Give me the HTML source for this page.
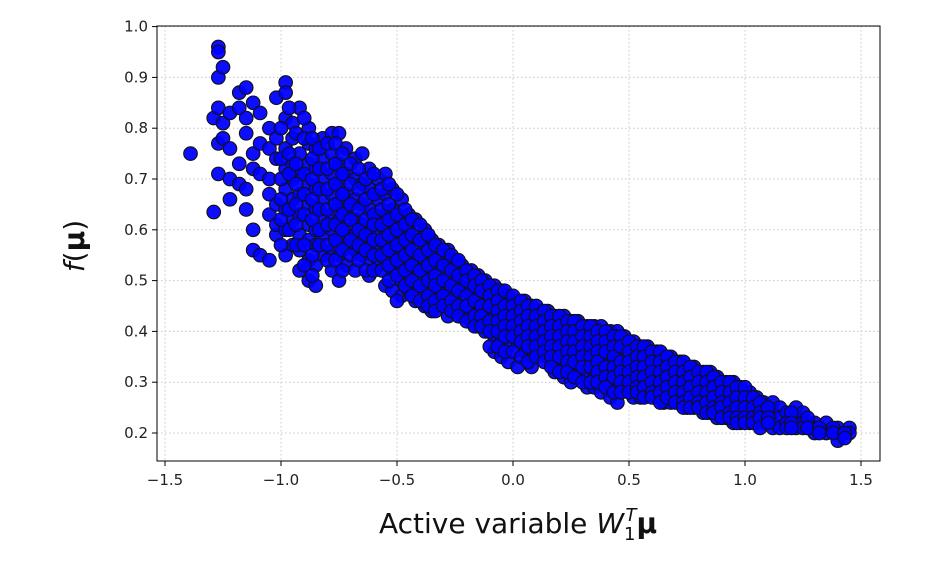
<!DOCTYPE html>
<html><head><meta charset="utf-8"><style>
html,body{margin:0;padding:0;background:#fff;}
svg{display:block;font-family:"DejaVu Sans","Liberation Sans",sans-serif;}
</style></head><body>
<svg id="chart" width="948" height="586" viewBox="0 0 948 586" xmlns="http://www.w3.org/2000/svg">
<g id="grid"></g>
<g id="points"></g>
<rect x="157" y="26" width="723" height="435" fill="none" stroke="#000" stroke-width="1"/>
<g id="xticks"></g>
<g id="yticks"></g>
<text transform="translate(84,246) rotate(-90)" text-anchor="middle" font-size="28" fill="#111"><tspan font-style="italic">f</tspan>(<tspan font-weight="bold">μ</tspan>)</text>
<text x="518" y="533" text-anchor="middle" font-size="28" fill="#111">Active variable <tspan font-style="italic">W</tspan><tspan font-size="18" dy="7">1</tspan><tspan font-style="italic" font-size="18" dy="-19" dx="-10">T</tspan><tspan font-weight="bold" dy="12">μ</tspan></text>
</svg>
<script>
const xTicks=[-1.5,-1.0,-0.5,0.0,0.5,1.0,1.5];
const xTickLabels=["−1.5","−1.0","−0.5","0.0","0.5","1.0","1.5"];
const yTicks=[0.2,0.3,0.4,0.5,0.6,0.7,0.8,0.9,1.0];
const yTickLabels=["0.2","0.3","0.4","0.5","0.6","0.7","0.8","0.9","1.0"];
const colX=[-1.39,-1.29,-1.27,-1.25,-1.22,-1.18,-1.15,-1.12,-1.09,-1.05,-1.02,-0.98,-0.95,-0.92,-0.88,-0.85,-0.82,-0.78,-0.75,-0.72,-0.68,-0.65,-0.62,-0.58,-0.55,-0.52,-0.48,-0.45,-0.42,-0.38,-0.35,-0.32,-0.28,-0.25,-0.22,-0.18,-0.15,-0.12,-0.08,-0.05,-0.02,0.02,0.05,0.08,0.12,0.15,0.18,0.22,0.25,0.28,0.32,0.35,0.38,0.42,0.45,0.48,0.52,0.55,0.58,0.62,0.65,0.68,0.72,0.75,0.78,0.82,0.85,0.88,0.92,0.95,0.98,1.02,1.05,1.08,1.12,1.15,1.18,1.22,1.25,1.30,1.35,1.40,1.45];
const colY=[
[0.75],[0.635,0.82],[0.96,0.95,0.90,0.84,0.77,0.71],[0.92,0.81,0.78],[0.76,0.66,0.70,0.83],[0.87,0.84,0.69,0.73],[0.88,0.82,0.64,0.68,0.79],[0.85,0.60,0.56,0.75,0.72],[0.83,0.77,0.71,0.55],[0.80,0.76,0.70,0.67,0.63,0.54],[0.86,0.78,0.74,0.65,0.59,0.61],
[0.89,0.87,0.82,0.76,0.72,0.68,0.64,0.60,0.55],[0.81,0.78,0.73,0.70,0.66,0.62,0.57],[0.84,0.75,0.71,0.67,0.63,0.59,0.56,0.52],[0.80,0.77,0.73,0.69,0.65,0.61,0.58,0.54,0.50],[0.76,0.72,0.68,0.64,0.60,0.57,0.53,0.49],[0.78,0.74,0.70,0.66,0.62,0.59,0.55],[0.79,0.75,0.71,0.67,0.63,0.60,0.56,0.52],[0.79,0.73,0.69,0.65,0.62,0.58,0.55,0.50],[0.76,0.71,0.67,0.64,0.60,0.57,0.53],[0.74,0.70,0.66,0.62,0.59,0.56,0.52],[0.75,0.69,0.65,0.61,0.58,0.55],[0.72,0.68,0.64,0.60,0.57,0.54,0.51],[0.70,0.66,0.62,0.59,0.56,0.53],[0.71,0.67,0.63,0.60,0.57,0.54,0.49],[0.68,0.64,0.61,0.58,0.55,0.52,0.48],[0.66,0.62,0.59,0.56,0.53,0.50,0.47],[0.63,0.60,0.57,0.54,0.51,0.48],[0.62,0.58,0.55,0.52,0.49,0.46],[0.60,0.57,0.54,0.51,0.48,0.45],[0.58,0.55,0.52,0.50,0.47,0.44],[0.57,0.54,0.51,0.48,0.46],[0.56,0.53,0.50,0.47,0.45,0.43],[0.54,0.52,0.49,0.46,0.44],[0.53,0.50,0.48,0.45,0.43],[0.52,0.49,0.47,0.44,0.42],[0.51,0.48,0.46,0.44,0.41],[0.50,0.47,0.45,0.43,0.40],[0.49,0.46,0.44,0.42,0.39,0.36],[0.48,0.46,0.43,0.41,0.38,0.35],[0.47,0.45,0.43,0.40,0.37,0.34],[0.46,0.44,0.42,0.40,0.38,0.33],[0.46,0.44,0.41,0.39,0.36],[0.45,0.43,0.41,0.38,0.35,0.33],[0.44,0.42,0.40,0.38,0.36],[0.44,0.42,0.39,0.37,0.35],[0.43,0.41,0.39,0.37,0.34,0.32],[0.43,0.41,0.38,0.36,0.34,0.31],[0.42,0.40,0.38,0.36,0.33,0.30],[0.42,0.40,0.37,0.35,0.33,0.31],[0.41,0.39,0.37,0.35,0.32,0.29],[0.41,0.39,0.36,0.34,0.32,0.29],[0.41,0.38,0.36,0.34,0.31,0.28],[0.40,0.38,0.35,0.33,0.30,0.27],[0.40,0.37,0.35,0.32,0.30,0.26],[0.39,0.37,0.34,0.32,0.29],[0.38,0.36,0.34,0.31,0.29,0.27],[0.37,0.35,0.33,0.31,0.28,0.27],[0.37,0.35,0.33,0.30,0.28],[0.36,0.34,0.32,0.30,0.27],[0.35,0.33,0.31,0.29,0.27,0.26],[0.35,0.33,0.31,0.29,0.26],[0.34,0.32,0.30,0.28,0.26],[0.33,0.31,0.29,0.27,0.25],[0.33,0.31,0.29,0.27,0.25],[0.32,0.30,0.28,0.26,0.24],[0.32,0.30,0.28,0.26,0.24],[0.31,0.29,0.27,0.25,0.23],[0.30,0.28,0.26,0.24,0.23],[0.30,0.28,0.26,0.24,0.22],[0.29,0.27,0.25,0.23,0.22],[0.28,0.26,0.24,0.22],[0.27,0.25,0.23,0.22],[0.26,0.24,0.22],[0.26,0.24,0.22,0.21],[0.25,0.23,0.21],[0.24,0.22,0.21],[0.25,0.23,0.21],[0.24,0.22,0.21],[0.22,0.21,0.20],[0.22,0.20],[0.21,0.20,0.185],[0.21,0.20]
];
const colX2=[-1.0,-0.965,-0.935,-0.9,-0.865,-0.835,-0.8,-0.765,-0.735,-0.7,-0.665,-0.635,-0.6,-0.565,-0.535,-0.5,-0.465,-0.435,-0.4,-0.365,-0.335,-0.3,-0.265,-0.235,-0.2,-0.165,-0.135,-0.1,-0.065,-0.035,0.0,0.035,0.065,0.1,0.135,0.165,0.2,0.235,0.265,0.3,0.335,0.365,0.4,0.435,0.465,0.5,0.535,0.565,0.6,0.635,0.665,0.7,0.735,0.765,0.8,0.835,0.865,0.9,0.935,0.965,1.0,1.035,1.065,1.1,1.2,1.27,1.32,1.38,1.43];
const colY2=[
[0.80,0.74,0.70,0.66,0.62,0.57],[0.84,0.75,0.71,0.64,0.60],[0.79,0.73,0.69,0.65,0.61,0.57],[0.82,0.78,0.71,0.67,0.63,0.57,0.53],[0.78,0.74,0.70,0.66,0.62,0.55,0.51],[0.76,0.72,0.68,0.64,0.60,0.57],[0.77,0.72,0.68,0.64,0.61,0.57,0.54],[0.77,0.73,0.69,0.65,0.61,0.58,0.54],[0.75,0.71,0.67,0.63,0.60,0.56,0.52],[0.73,0.69,0.65,0.62,0.58,0.55],[0.72,0.68,0.64,0.60,0.57,0.54],[0.70,0.66,0.62,0.59,0.56,0.52],[0.71,0.67,0.63,0.61,0.58,0.55,0.52],[0.68,0.64,0.61,0.58,0.55,0.52],[0.69,0.65,0.62,0.59,0.56,0.53,0.50],[0.67,0.63,0.60,0.57,0.54,0.51,0.46],[0.64,0.61,0.58,0.55,0.52,0.49],[0.62,0.59,0.56,0.53,0.50,0.47],[0.61,0.58,0.55,0.52,0.49,0.46],[0.59,0.56,0.53,0.50,0.47,0.45],[0.57,0.54,0.51,0.49,0.46,0.44],[0.56,0.53,0.50,0.47,0.45],[0.55,0.52,0.49,0.46,0.44],[0.54,0.51,0.48,0.45,0.43],[0.52,0.50,0.47,0.45,0.42],[0.51,0.49,0.46,0.43,0.41],[0.50,0.48,0.45,0.43,0.41],[0.49,0.47,0.45,0.42,0.40,0.37],[0.48,0.46,0.44,0.42,0.40,0.37],[0.48,0.45,0.43,0.41,0.39,0.36],[0.47,0.45,0.43,0.41,0.39,0.36],[0.46,0.44,0.42,0.40,0.38,0.35],[0.45,0.43,0.41,0.39,0.37,0.34],[0.45,0.43,0.41,0.39,0.37,0.35],[0.44,0.42,0.40,0.38,0.36,0.34],[0.43,0.41,0.39,0.37,0.35,0.33],[0.43,0.41,0.39,0.37,0.35,0.32],[0.42,0.40,0.38,0.36,0.34,0.32],[0.42,0.40,0.38,0.36,0.34,0.31],[0.41,0.39,0.37,0.35,0.33,0.30],[0.41,0.39,0.37,0.35,0.33,0.30],[0.40,0.38,0.36,0.34,0.32,0.30],[0.40,0.38,0.36,0.33,0.31,0.29],[0.39,0.37,0.35,0.33,0.31,0.28],[0.39,0.37,0.34,0.32,0.30,0.28],[0.38,0.36,0.34,0.32,0.30,0.28],[0.37,0.35,0.33,0.31,0.29,0.28],[0.37,0.35,0.33,0.31,0.29,0.27],[0.36,0.34,0.32,0.30,0.28,0.27],[0.36,0.34,0.32,0.30,0.28,0.26],[0.35,0.33,0.31,0.29,0.27],[0.34,0.32,0.30,0.28,0.26],[0.34,0.32,0.30,0.28,0.26,0.25],[0.33,0.31,0.29,0.27,0.25],[0.32,0.30,0.28,0.26,0.25],[0.32,0.30,0.28,0.26,0.24],[0.31,0.29,0.27,0.25,0.24],[0.30,0.28,0.26,0.25,0.23],[0.30,0.28,0.26,0.24,0.23],[0.29,0.27,0.25,0.23,0.22],[0.29,0.27,0.25,0.23,0.22],[0.27,0.25,0.23,0.22],[0.26,0.24,0.23,0.21],[0.25,0.23,0.22],[0.24,0.22,0.21],[0.23,0.21,0.21],[0.21,0.20],[0.21,0.20],[0.20,0.19]
];
const NS="http://www.w3.org/2000/svg";
const X0=157,X1=880,Y0=26,Y1=461;
function sx(v){return 513+232*v;}
function sy(v){return 433-508*(v-0.2);}
const grid=document.getElementById('grid'),xt=document.getElementById('xticks'),yt=document.getElementById('yticks'),pts=document.getElementById('points');
function mk(tag,attrs,parent){const e=document.createElementNS(NS,tag);for(const k in attrs)e.setAttribute(k,attrs[k]);parent.appendChild(e);return e;}
xTicks.forEach((t,i)=>{const x=sx(t);
 const g=mk('line',{x1:x,x2:x,y1:Y0,y2:Y1,stroke:'#c8c8c8','stroke-dasharray':'1.5,2.5','stroke-width':1},grid);
 
 
 const tk=mk('line',{x1:x,x2:x,y1:Y1,y2:Y1+5,stroke:'#000'},xt);
 
 
 const tx=mk('text',{x:x,y:Y1+24,'text-anchor':'middle','font-size':15,fill:'#222'},xt);
 tx.textContent=xTickLabels[i];
 
 
});
yTicks.forEach((t,i)=>{const y=sy(t);
 const g=mk('line',{x1:X0,x2:X1,y1:y,y2:y,stroke:'#c8c8c8','stroke-dasharray':'1.5,2.5','stroke-width':1},grid);
 
 
 const tk=mk('line',{x1:X0-5,x2:X0,y1:y,y2:y,stroke:'#000'},yt);
 
 
 const tx=mk('text',{x:X0-9,y:y+5,'text-anchor':'end','font-size':15,fill:'#222'},yt);
 tx.textContent=yTickLabels[i];
 
 
});
function drawCols(xs,ys){xs.forEach((xv,i)=>{ys[i].forEach(yv=>{
 const c=mk('circle',{cx:sx(xv),cy:sy(yv),r:6.8,fill:'#0000ff',stroke:'#111','stroke-width':1.1,'fill-opacity':0.95},pts);
 
 
});});}
drawCols(colX,colY);
drawCols(colX2,colY2);
</script>
</body></html>
